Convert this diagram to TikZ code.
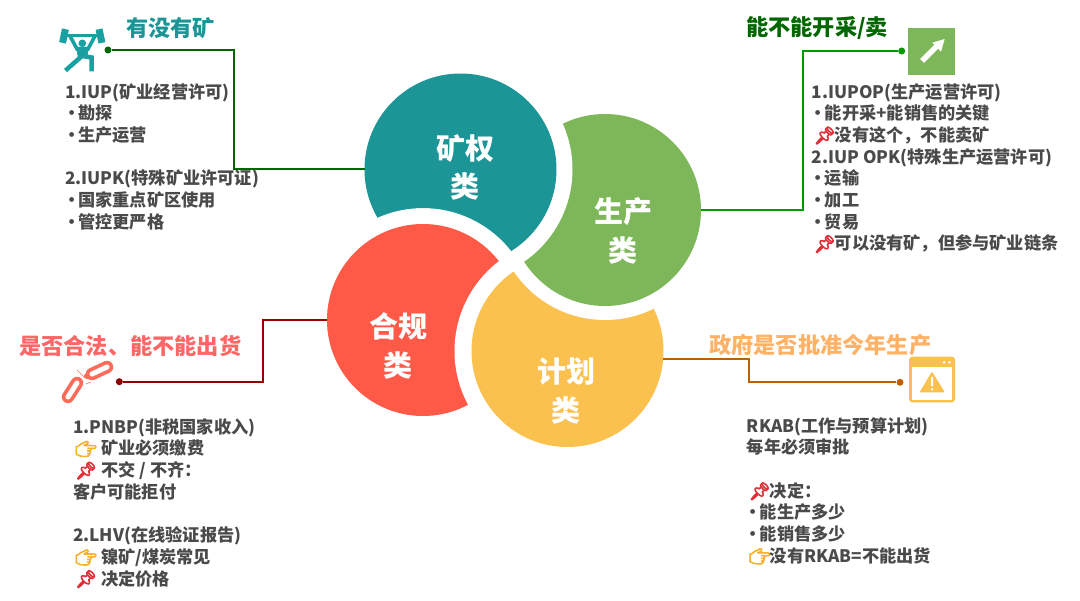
\documentclass[tikz,border=0pt]{standalone}
\usepackage{fontspec}
\setmainfont{Noto Sans CJK SC}
\newfontfamily\emojifont[FakeBold=5]{Noto Emoji}
\usepackage{tikz}
\usetikzlibrary{arrows.meta, positioning, calc}
\definecolor{kqfill}{HTML}{1C9596}
\definecolor{scfill}{HTML}{7DB759}
\definecolor{hgfill}{HTML}{FF5A48}
\definecolor{jhfill}{HTML}{FBC14F}
\definecolor{bodytxt}{HTML}{4A4A4A}
\definecolor{pincol}{HTML}{E0303A}
\definecolor{handcol}{HTML}{F5B02E}
\newcommand{\bul}{\makebox[13pt][l]{\hspace{-2pt}•}}
\newcommand{\pinmark}[1]{\makebox[#1][l]{\hspace{2pt}{\emojifont\textcolor{pincol}{📌}}}}
\newcommand{\handmark}[1]{\makebox[#1][l]{\hspace{2pt}{\emojifont\textcolor{handcol}{👉}}}}

\begin{document}
\begin{tikzpicture}[
                x=1pt, y=-1pt,
                petal/.style={circle, minimum size=192pt, inner sep=0pt, outer sep=0pt},
                lab/.style={align=center, text=white, font=\fontsize{29}{38.5}\selectfont\bfseries},
                head/.style={anchor=west, inner sep=0pt, font=\fontsize{22.2}{26}\selectfont\bfseries},
                body/.style={anchor=north west, align=left, inner sep=0pt, text=bodytxt, font=\fontsize{17.2}{21.7}\selectfont\bfseries},
                link/.style={line width=2pt},
                dotmark/.style={circle, minimum size=7pt, inner sep=0pt}
            ]
            \useasboundingbox (0,0) rectangle (1080,601);
            % petals, each cut by the next one
            \node[petal, fill=kqfill] (kq) at (460.5,169.5) {};
            \fill[white] (423,320) circle (112);
            \node[petal, fill=hgfill] (hg) at (423,320) {};
            \fill[white] (567.5,351) circle (113);
            \node[petal, fill=jhfill] (jh) at (567.5,351) {};
            \fill[white] (605,210) circle (110);
            \node[petal, fill=scfill] (sc) at (605,210) {};
            \begin{scope}[even odd rule]
                \clip (0,0) rectangle (1080,601) (423,320) circle (112);
                \fill[white] (kq.center) circle (112);
                \fill[kqfill] (kq.center) circle (96);
            \end{scope}

            \node[lab] (kqlab) at (465,167.5) {矿权\\类};
            \node[lab] (sclab) at (623,231) {生产\\类};
            \node[lab] (hglab) at (398,346) {合规\\类};
            \node[lab] (jhlab) at (566,391) {计划\\类};

            % connectors
            \node[dotmark, fill=green!40!black] (kqdot) at (108,50) {};
            \node[dotmark, fill=green!60!black] (scdot) at (901.7,51) {};
            \node[dotmark, fill=red!55!black] (hgdot) at (119.3,381.7) {};
            \node[dotmark, fill=orange!75!black] (jhdot) at (900,382.3) {};
            \coordinate (kqbend) at (234,100);
            \coordinate (scbend) at (802.7,100);
            \coordinate (hgbend) at (262.7,350);
            \coordinate (jhbend) at (749,370);
            \draw[link, draw=green!40!black] (kqdot) -| (kqbend) |- (kq.west);
            \draw[link, draw=green!60!black] (scdot) -| (scbend) |- (sc.east);
            \draw[link, draw=red!60!black] (hgdot) -| (hgbend) |- (hg.west);
            \draw[link, draw=orange!75!black] (jhdot) -| (jhbend) |- (jh.-5);

            % headings
            \node[head, text=kqfill] (kqhead) at (126,28) {有没有矿};
            \node[head, text=green!40!black] (schead) at (746,28) {能不能开采/卖};
            \node[head, text=red!60!white] (hghead) at (19,346) {是否合法、能不能出货};
            \node[head, text=orange!60!white] (jhhead) at (709,345) {政府是否批准今年生产};

            % texts
            \node[body] (kqtxt) at (65,83) {1.IUP(矿业经营许可)\\ \bul 勘探\\ \bul 生产运营\\[21.7pt]
                2.IUPK(特殊矿业许可证)\\ \bul 国家重点矿区使用\\ \bul 管控更严格};
            \node[body] (sctxt) at (811.7,83) {1.IUPOP(生产运营许可)\\ \bul 能开采+能销售的关键\\ \pinmark{23pt}没有这个，不能卖矿\\
                2.IUP OPK(特殊生产运营许可)\\ \bul 运输\\ \bul 加工\\ \bul 贸易\\ \pinmark{23pt}可以没有矿，但参与矿业链条};
            \node[body] (hgtxt) at (73,418) {1.PNBP(非税国家收入)\\ \handmark{28pt}矿业必须缴费\\ \pinmark{28pt}不交 / 不齐：\\ 客户可能拒付\\[21.7pt]
                2.LHV(在线验证报告)\\ \handmark{28pt}镍矿/煤炭常见\\ \pinmark{28pt}决定价格};
            \node[body] (jhtxt) at (746.7,417) {RKAB(工作与预算计划)\\ 每年必须审批\\[21.7pt]
                \pinmark{23pt}决定：\\ \bul 能生产多少\\ \bul 能销售多少\\ \handmark{23pt}没有RKAB=不能出货};

            % icons
            \begin{scope}[color=kqfill!90!cyan]
                \fill (82.3,43.3) circle (3.8);
                \draw[line width=2.2pt] (66,35.5) -- (100,35.5);
                \fill[rotate around={-12:(64,36)}] (60.5,29) rectangle (67.5,43);
                \fill[rotate around={12:(100.5,36)}] (97,29) rectangle (104,43);
                \draw[line width=3.6pt] (70,36) -- (77,49) -- (88,49) -- (95,36);
                \fill (76,47) -- (89,47) -- (87,58) -- (78,58) -- cycle;
                \draw[line width=4.5pt] (82,56) -- (65.5,70.5);
                \draw[line width=4.5pt] (83,56) -- (91.5,57.5) -- (91.5,71.5);
            \end{scope}
            \fill[scfill] (908.3,28.3) rectangle (955,75);
            \draw[white, line width=5.5pt] (922,61) -- (938,45);
            \fill[white] (944.7,39) -- (932.3,42.7) -- (941,51.7) -- cycle;
            \begin{scope}[color=hgfill!90!white]
                \draw[line width=12.5pt, line cap=round] (92,374) -- (107,367);
                \draw[white, line width=5pt, line cap=round] (92,374) -- (107,367);
                \draw[line width=12.5pt, line cap=round] (68,397) -- (77,383);
                \draw[white, line width=5pt, line cap=round] (68,397) -- (77,383);
                \fill (87,376) circle (3);
                \draw[line width=0.6pt] (77,370) -- (85,378) (86,384) -- (91,382);
            \end{scope}
            \fill[jhfill, rounded corners=3pt] (909,356.7) rectangle (955,402.3);
            \fill[white] (911.7,366.7) rectangle (952.3,400);
            \fill[white] (944,362.3) circle (1.3) (949.5,362.3) circle (1.3);
            \fill[jhfill, rounded corners=1pt] (932,371.5) -- (919.5,392.5) -- (945,392.5) -- cycle;
            \fill[white] (931,377) rectangle (933.2,386.5) (932.1,389.3) circle (1.2);
        \end{tikzpicture}
\end{document}
